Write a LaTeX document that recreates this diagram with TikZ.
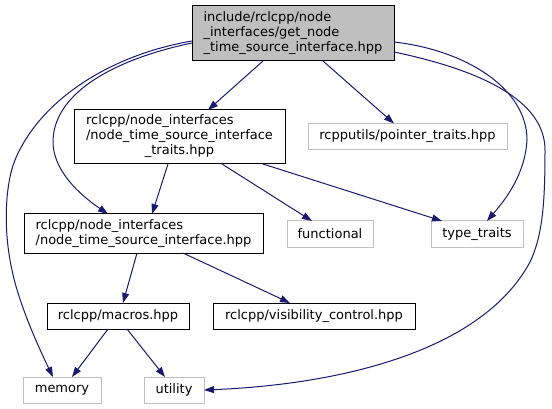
\documentclass[tikz,border=0pt]{standalone}
\usepackage{fontspec}
\setmainfont{DejaVu Sans}
\usetikzlibrary{arrows.meta,calc}
\definecolor{edgeblue}{RGB}{25,25,112}
\definecolor{lightgrayb}{RGB}{191,191,191}
\begin{document}
\begin{tikzpicture}[x=1pt,y=-1pt,
  box/.style={draw=black,line width=1pt,inner sep=0pt,outer sep=0pt,
    font=\fontsize{13}{15}\selectfont,align=left,anchor=center},
  graybox/.style={box,draw=lightgrayb},
  edge/.style={draw=edgeblue,line width=1pt,
    -{Triangle[length=10pt,width=7pt,fill=edgeblue]}}
]
\useasboundingbox (0,0) rectangle (552,409);

\node[box,fill=lightgrayb,minimum width=202pt,minimum height=55pt] (top) at (293,33.5)
  {include/rclcpp/node\\\_interfaces/get\_node\\\_time\_source\_interface.hpp};
\node[box,minimum width=211pt,minimum height=54pt] (ntsit) at (179.5,137)
  {\begin{tabular}{@{}l@{}}rclcpp/node\_interfaces\\/node\_time\_source\_interface\\\multicolumn{1}{@{}c@{}}{\_traits.hpp}\end{tabular}};
\node[graybox,minimum width=199pt,minimum height=26pt] (ptr) at (407.5,136.5)
  {rcpputils/pointer\_traits.hpp};
\node[box,minimum width=239pt,minimum height=39pt] (ntsi) at (143.5,233.5)
  {rclcpp/node\_interfaces\\/node\_time\_source\_interface.hpp};
\node[graybox,minimum width=86pt,minimum height=26pt] (functional) at (330,234) {functional};
\node[graybox,minimum width=92pt,minimum height=26pt] (tt) at (477,234) {type\_traits};
\node[box,minimum width=142pt,minimum height=26pt] (macros) at (118,316) {rclcpp/macros.hpp};
\node[box,minimum width=202pt,minimum height=26pt] (vis) at (314,316) {rclcpp/visibility\_control.hpp};
\node[graybox,minimum width=78pt,minimum height=26pt] (memory) at (62,390) {memory};
\node[graybox,minimum width=60pt,minimum height=26pt] (utility) at (174,390) {utility};

\draw[edge] ($(top.south west)+(71,0)$) -- ($(ntsit.north west)+(134,0)$);
\draw[edge] ($(top.south west)+(131,0)$) -- ($(ptr.north west)+(86,0)$);
\draw[edge] ($(top.north west)+(0,37)$) .. controls (120,58) and (55,90) .. (53,140)
  .. controls (52,170) and (80,195) .. ($(ntsi.north west)+(84,0)$);
\draw[edge] ($(top.north west)+(0,35)$) .. controls (110,55) and (40,100) .. (15,160)
  .. controls (5,185) and (3,230) .. (12,270)
  .. controls (18,300) and (35,340) .. ($(memory.north west)+(30,0)$);
\draw[edge] ($(top.north east)+(0,36)$) .. controls (465,50) and (527,88) .. (527,140)
  .. controls (525,175) and (505,200) .. ($(tt.north west)+(56,0)$);
\draw[edge] ($(top.north east)+(0,46)$) .. controls (480,70) and (545,100) .. (545,150)
  .. controls (545,200) and (543,235) .. (530,262)
  .. controls (480,355) and (330,385) .. (utility.east);
\draw[edge] ($(ntsit.south west)+(94,0)$) -- ($(ntsi.north west)+(128,0)$);
\draw[edge] ($(ntsit.south west)+(148,0)$) -- ($(functional.north west)+(25,0)$);
\draw[edge] ($(ntsit.south west)+(189,0)$) -- ($(tt.north west)+(11,0)$);
\draw[edge] ($(ntsi.south west)+(113,0)$) -- ($(macros.north west)+(76,0)$);
\draw[edge] ($(ntsi.south west)+(159,0)$) -- ($(vis.north west)+(77,0)$);
\draw[edge] ($(macros.south west)+(61,0)$) -- ($(memory.north west)+(49,0)$);
\draw[edge] ($(macros.south west)+(80,0)$) -- ($(utility.north west)+(21,0)$);
\end{tikzpicture}
\end{document}
